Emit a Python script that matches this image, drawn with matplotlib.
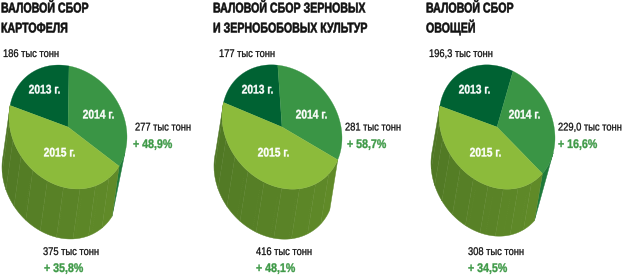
import numpy as np
import matplotlib
matplotlib.use("Agg")
import matplotlib.pyplot as plt
import matplotlib.patheffects as pe
from matplotlib.font_manager import FontProperties
from matplotlib.patches import Polygon
from matplotlib.text import Text
from matplotlib.textpath import TextPath
from matplotlib.transforms import Affine2D, Bbox

FONT = 'Liberation Sans'
years = ["2013 г.", "2014 г.", "2015 г."]
titles = [["ВАЛОВОЙ СБОР", "КАРТОФЕЛЯ"],
          ["ВАЛОВОЙ СБОР ЗЕРНОВЫХ", "И ЗЕРНОБОБОВЫХ КУЛЬТУР"],
          ["ВАЛОВОЙ СБОР", "ОВОЩЕЙ"]]
potato = [186, 277, 375]
grain = [177, 281, 416]
veg = [196.3, 229.0, 308]
value_labels = [["186 тыс тонн", "277 тыс тонн", "375 тыс тонн"],
                ["177 тыс тонн", "281 тыс тонн", "416 тыс тонн"],
                ["196,3 тыс тонн", "229,0 тыс тонн", "308 тыс тонн"]]
growth_labels = [["+ 48,9%", "+ 35,8%"], ["+ 58,7%", "+ 48,1%"], ["+ 16,6%", "+ 34,5%"]]

TOP = ["#006233", "#3a9545", "#8cbb3b"]
SIDE_GREEN = "#1f7a3a"
SIDE_A, SIDE_B = np.array([0x4e, 0x76, 0x24]) / 255, np.array([0x60, 0x8a, 0x28]) / 255
GREEN_TXT = "#3f9a48"

# layout per pie: centre, start angle, unit-x vector, unit-y vector, extrusion
pies = [
    dict(vals=potato, c=(68, 127), s=90, ex=(59, 11), ey=(1, 61), d=(-7, 50), sliver=15, tx=1,
         l0=(3, 57), l1=(135, 130.5), g1=(133, 148), l2=(43, 255), g2=(44, 272),
         yrs=[(44, 89), (98, 114), (59, 152)]),
    dict(vals=grain, c=(282, 127), s=95, ex=(60, 12), ey=(1, 61), d=(-8, 50), sliver=0, tx=213,
         l0=(219, 57), l1=(345, 130.5), g1=(347, 148), l2=(256, 255), g2=(256, 272),
         yrs=[(257, 89), (311, 114), (273, 152)]),
    dict(vals=veg, c=(497, 127), s=75, ex=(58, 12), ey=(1, 61), d=(-8, 47), sliver=24, tx=426,
         l0=(429, 57), l1=(558, 130.5), g1=(558, 148), l2=(468, 255), g2=(468, 272),
         yrs=[(474, 89), (524, 114), (485, 152)]),
]

fig = plt.figure(figsize=(6.29, 2.76), dpi=100)
ax = fig.add_axes([0, 0, 1, 1])
ax.set_xlim(0, 629)
ax.set_ylim(276, 0)
ax.axis("off")


class Squeeze(pe.AbstractPathEffect):
    """Condense glyphs horizontally about the text origin and thicken them slightly."""
    def __init__(self, sx, stroke):
        super().__init__()
        self.sx = sx
        self.stroke = stroke

    def draw_path(self, renderer, gc, tpath, affine, rgbFace=None):
        gc0 = renderer.new_gc()
        gc0.copy_properties(gc)
        gc0.set_linewidth(self.stroke)
        gc0.set_foreground(rgbFace)
        renderer.draw_path(gc0, tpath, Affine2D().scale(self.sx, 1) + affine, rgbFace)
        gc0.restore()


class NarrowText(Text):
    sx = 1.0

    def get_window_extent(self, renderer=None, dpi=None):
        b = super().get_window_extent(renderer, dpi)
        return Bbox.from_extents(b.x0, b.y0, b.x0 + b.width * self.sx, b.y1)


def ntext(x, y, s, size, sx, color, bold=False, center=False, stroke=0.2):
    weight = "bold" if bold else "normal"
    if center:
        fp = FontProperties(family=FONT, weight=weight, size=size)
        w = TextPath((0, 0), s, prop=fp).get_extents().width * 100 / 72
        x = x - sx * w / 2
    t = NarrowText(x, y, s, family=FONT, fontsize=size, fontweight=weight, color=color,
                   ha="left", va="baseline")
    t.sx = sx
    t.set_path_effects([Squeeze(sx, stroke)])
    ax.add_artist(t)


def pt(p, deg):
    t = np.radians(deg)
    x = p["c"][0] + np.cos(t) * p["ex"][0] + np.sin(t) * p["ey"][0]
    y = p["c"][1] + np.cos(t) * p["ex"][1] - np.sin(t) * p["ey"][1]
    return np.column_stack([x, y])


def band(p, a, b, **kw):
    arc = pt(p, np.linspace(a, b, 40))
    ax.add_patch(Polygon(np.vstack([arc, (arc + p["d"])[::-1]]), closed=True, **kw))


for i, p in enumerate(pies):
    v = np.array(p["vals"], float)
    deg = v / v.sum() * 360
    s = p["s"]
    a13 = (s, s + deg[0])
    a14 = (s - deg[1], s)
    a15 = (s + deg[0], s + deg[0] + deg[2])

    # sides
    if p["sliver"]:
        arc = pt(p, np.linspace(a14[0], a14[0] + p["sliver"], 12))
        ax.add_patch(Polygon(np.vstack([arc, arc[:1] + p["d"]]), closed=True,
                             fc=SIDE_GREEN, ec=SIDE_GREEN, lw=0.3))
    n = 10
    edges = np.linspace(a15[0], a15[1], n + 1)
    for k in range(n):
        col = SIDE_A + (SIDE_B - SIDE_A) * k / (n - 1)
        band(p, edges[k], edges[k + 1], fc=col, ec=col, lw=0.3)
    for e in np.linspace(215, 320, 7)[1:-1]:
        q = pt(p, e)[0]
        ax.plot([q[0] - 1, q[0] + p["d"][0]], [q[1] + 10, q[1] + p["d"][1]],
                color="#7a9f45", lw=0.3, ls=(0, (2, 3)), alpha=0.35)

    # top
    for (a, b), col in zip([a13, a14, a15], TOP):
        arc = pt(p, np.linspace(a, b, 80))
        ax.add_patch(Polygon(np.vstack([[p["c"]], arc]), closed=True, fc=col, ec=col, lw=0.2))

    # texts
    for j, line in enumerate(titles[i]):
        ntext(p["tx"], 12.5 + j * 20, line, 10.2, 0.75, "#111111", bold=True, stroke=0.35)
    for lab, (x, y) in zip(years, p["yrs"]):
        ntext(x, y + 4.5, lab, 9, 0.82, "white", bold=True, center=True, stroke=0.25)
    ntext(*p["l0"], value_labels[i][0], 8, 0.84, "#111111")
    ntext(*p["l1"], value_labels[i][1], 8, 0.84, "#111111")
    ntext(*p["g1"], growth_labels[i][0], 9, 0.85, GREEN_TXT, bold=True, stroke=0.25)
    ntext(*p["l2"], value_labels[i][2], 8, 0.84, "#111111")
    ntext(*p["g2"], growth_labels[i][1], 9, 0.85, GREEN_TXT, bold=True, stroke=0.25)

fig.savefig("out.png", dpi=100)
